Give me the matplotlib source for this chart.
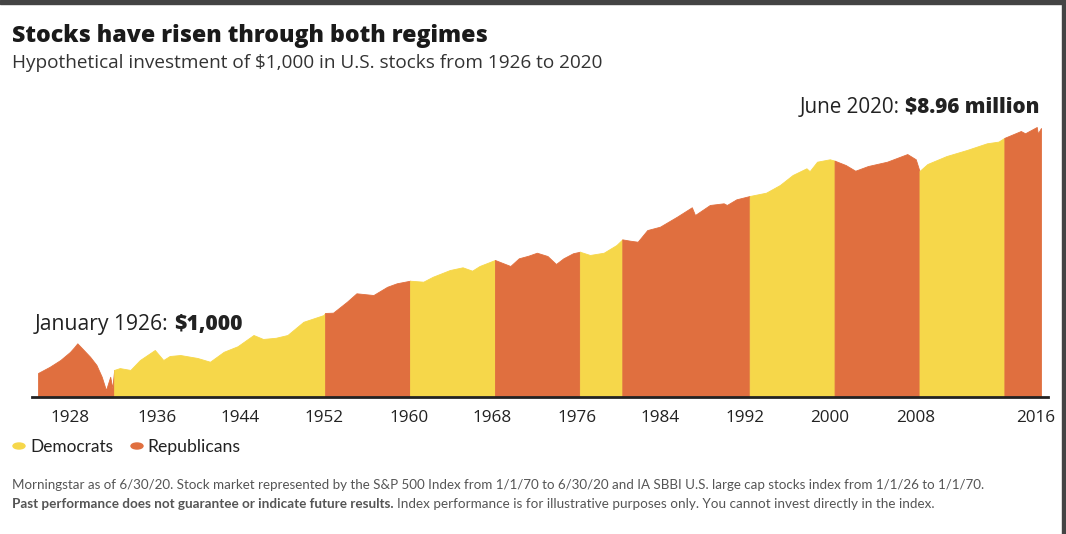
import numpy as np
import matplotlib
matplotlib.use("Agg")
import matplotlib.pyplot as plt
from matplotlib.patches import Rectangle, Circle

# ---- Data (value of $1,000 invested in Jan 1926) ----
years = [1926.0, 1927.1, 1928.1, 1929.0, 1929.4, 1929.7, 1930.3, 1930.9, 1931.5, 1932.0,
         1932.4, 1932.8, 1933.0, 1933.17, 1933.7, 1934.7, 1935.6, 1937.0, 1937.8, 1938.4,
         1939.4, 1941.0, 1942.2, 1943.5, 1944.8, 1946.3, 1947.2, 1948.4, 1949.5, 1951.0,
         1952.9, 1953.05, 1953.8, 1955.1, 1956.0, 1957.6, 1958.9, 1959.8, 1961.05, 1962.3,
         1963.2, 1964.8, 1966.0, 1966.9, 1967.6, 1969.05, 1970.5, 1971.3, 1972.2, 1973.0,
         1974.0, 1974.8, 1975.5, 1976.4, 1977.05, 1978.0, 1979.3, 1980.5, 1981.05, 1981.8,
         1982.5, 1983.4, 1984.6, 1986.2, 1987.6, 1987.9, 1989.3, 1990.6, 1990.9, 1991.8,
         1993.05, 1994.6, 1995.9, 1997.1, 1998.4, 1998.7, 1999.4, 2000.6, 2001.05, 2002.1,
         2003.0, 2004.2, 2006.0, 2007.9, 2008.7, 2009.05, 2009.8, 2011.6, 2013.5, 2015.4,
         2016.5, 2017.05, 2018.6, 2019.0, 2020.1, 2020.2, 2020.5]
values = [1000, 1260, 1620, 2180, 2600, 3010, 2350, 1830, 1350, 870,
          530, 870, 570, 1120, 1200, 1120, 1620, 2350, 1620, 1880,
          1950, 1750, 1520, 2200, 2700, 4100, 3540, 3700, 4100, 6700,
          8600, 9300, 9400, 14100, 19300, 18100, 24600, 28000, 30800, 29700,
          35700, 45800, 50700, 44700, 53200, 66500, 53200, 70800, 78000, 87100,
          77100, 57300, 70800, 85300, 90400, 80100, 87100, 116000, 143000, 136000,
          131000, 202000, 229000, 332000, 471000, 353000, 513000, 546000, 513000, 633000,
          716000, 810000, 1077000, 1562000, 2004000, 1800000, 2560000, 2800000, 2660000, 2260000,
          1830000, 2180000, 2560000, 3400000, 2800000, 1810000, 2350000, 3160000, 3950000, 5070000,
          5400000, 6200000, 8000000, 7350000, 9290000, 7300000, 8960000]

# presidential regimes (start, end, party)
regime_start = [1926.0, 1933.17, 1953.05, 1961.05, 1969.05, 1977.05, 1981.05, 1993.05, 2001.05, 2009.05, 2017.05]
regime_end = [1933.17, 1953.05, 1961.05, 1969.05, 1977.05, 1981.05, 1993.05, 2001.05, 2009.05, 2017.05, 2020.5]
regime_party = ["R", "D", "R", "D", "R", "D", "R", "D", "R", "D", "R"]

tick_labels = ["1928", "1936", "1944", "1952", "1960", "1968", "1976", "1984", "1992", "2000", "2008", "2016"]
tick_pos = [1929.0, 1937.2, 1945.0, 1952.9, 1961.0, 1968.8, 1976.8, 1984.6, 1992.6, 2000.6, 2008.7, 2020.0]

YELLOW = "#F6D74A"
ORANGE = "#E06F3F"
colors = {"D": YELLOW, "R": ORANGE}

W, H = 1066, 534
fig = plt.figure(figsize=(W / 100, H / 100), dpi=100)
fig.patch.set_facecolor("white")


def px(x, y):
    return x / W, 1 - y / H


# axes placed so the data starts at x=38px and the baseline sits at y=397px
ax = fig.add_axes([32 / W, 1 - 397 / H, (1048 - 32) / W, (397 - 90) / H])
ax.set_yscale("log")
ax.set_xlim(1925.43, 2021.16)
ax.set_ylim(410, 36.7e6)

yrs = np.array(years)
vals = np.array(values, dtype=float)
for s, e, p in zip(regime_start, regime_end, regime_party):
    m = (yrs >= s) & (yrs <= e)
    ax.fill_between(yrs[m], vals[m], 1, color=colors[p], lw=0.6, edgecolor=colors[p])

for side in ["top", "right", "left"]:
    ax.spines[side].set_visible(False)
ax.spines["bottom"].set_color("#222222")
ax.spines["bottom"].set_linewidth(2)
ax.set_yticks([])
ax.yaxis.set_minor_locator(matplotlib.ticker.NullLocator())
ax.set_xticks(tick_pos)
ax.set_xticklabels(tick_labels, fontsize=12.3, family="Open Sans", color="#222222")
ax.tick_params(axis="x", length=0, pad=9)

renderer = fig.canvas.get_renderer()


def fit(t, width):
    # rescale font so the text is as wide as in the reference
    bb = t.get_window_extent(renderer)
    t.set_fontsize(t.get_fontsize() * width / bb.width)


def two_part(x, y, first, second, size, w1, w2, width, color="#222222", family="Open Sans", ha="left"):
    # two pieces of text on one baseline, scaled together to a given total width
    t1 = fig.text(*px(x, y), first, fontsize=size, fontweight=w1, family=family,
                  color=color, va="baseline", ha="left")
    t2 = fig.text(*px(x, y), second, fontsize=size, fontweight=w2, family=family,
                  color=color, va="baseline", ha="left")
    total = t1.get_window_extent(renderer).width + t2.get_window_extent(renderer).width
    for t in (t1, t2):
        t.set_fontsize(size * width / total)
    w1px = t1.get_window_extent(renderer).width
    x0 = x - width if ha == "right" else x
    t1.set_x(x0 / W)
    t2.set_x((x0 + w1px) / W)


# title and subtitle
title = fig.text(*px(12, 42), "Stocks have risen through both regimes", fontsize=16.5,
                 fontweight=800, family="Open Sans", color="#1a1a1a", va="baseline")
fit(title, 476)
sub = fig.text(*px(12, 68), "Hypothetical investment of $1,000 in U.S. stocks from 1926 to 2020",
               fontsize=12.2, family="Open Sans", color="#333333", va="baseline")
fit(sub, 592)

# annotations
two_part(1041, 113, "June 2020: ", "$8.96 million", 13.3, "normal", 800, 241, ha="right")
two_part(35, 330, "January 1926: ", "$1,000", 13.3, "normal", 800, 208)

# legend
fig.add_artist(Circle(px(19, 446), 6 / W, color=YELLOW, transform=fig.transFigure))
t = fig.text(*px(30, 447), "Democrats", fontsize=11, family="Lato", color="#222222", va="center")
fit(t, 83)
fig.add_artist(Circle(px(137, 446), 6 / W, color=ORANGE, transform=fig.transFigure))
t = fig.text(*px(147, 447), "Republicans", fontsize=11, family="Lato", color="#222222", va="center")
fit(t, 93)

# footnote
t = fig.text(*px(12, 489), "Morningstar as of 6/30/20. Stock market represented by the S&P 500 Index from 1/1/70 "
             "to 6/30/20 and IA SBBI U.S. large cap stocks index from 1/1/26 to 1/1/70.",
             fontsize=9, family="Lato", color="#555555", va="baseline")
fit(t, 973)
two_part(12, 508, "Past performance does not guarantee or indicate future results. ",
         "Index performance is for illustrative purposes only. You cannot invest directly in the index.",
         9, "bold", "normal", 921, color="#555555", family="Lato")

# dark frame edges of the screenshot
fig.add_artist(Rectangle((0, 1 - 4 / H), 1, 4 / H, color="#444444", transform=fig.transFigure))
fig.add_artist(Rectangle((1 - 4 / W, 0), 4 / W, 1, color="#444444", transform=fig.transFigure))

fig.savefig("out.png", dpi=100)
